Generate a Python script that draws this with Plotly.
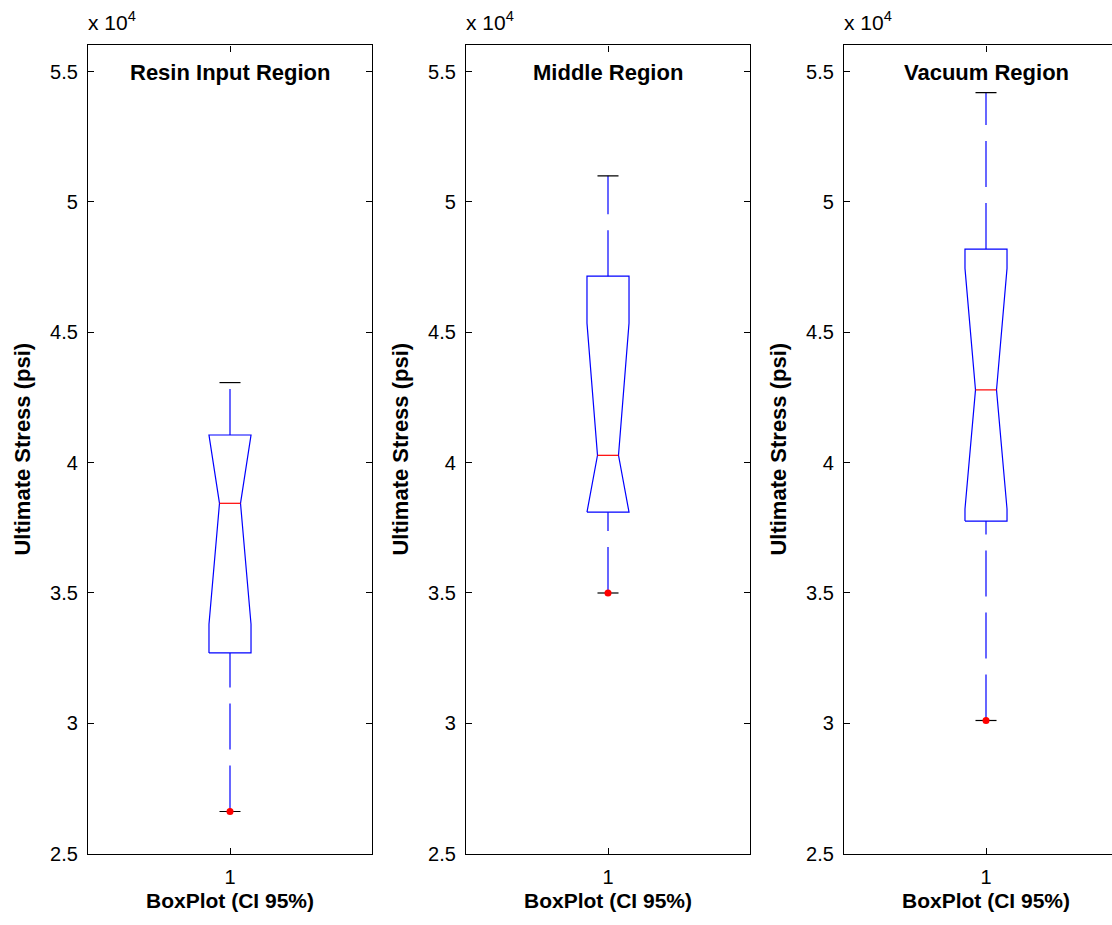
import plotly.graph_objects as go

# ---- data ----
regions = ["Resin Input Region", "Middle Region", "Vacuum Region"]
q1 = [32700, 38100, 37760]
median = [38440, 40280, 42790]
q3 = [41060, 47150, 48190]
notch_lo = [33800, 35210, 38220]
notch_hi = [43080, 45350, 47450]
whisker_lo = [26620, 35000, 30110]
whisker_hi = [43070, 51000, 54190]
outliers = [26620, 35000, 30110]
y_tickvals = [25000, 30000, 35000, 40000, 45000, 50000, 55000]
y_ticktext = ["2.5", "3", "3.5", "4", "4.5", "5", "5.5"]
x_ticktext = ["1"]
x_label = "BoxPlot (CI 95%)"
y_label = "Ultimate Stress (psi)"
exp_label = "x 10<sup>4</sup>"

# ---- layout geometry ----
W, H = 1112, 925
lefts = [88, 466, 844]
pw = 284
top_px, bottom_px = 46, 864
FONT = "Liberation Sans, Arial, Helvetica, sans-serif"
BLUE, RED, BLACK = "#0000FF", "#FF0000", "#000000"
bw, nw, cw = 0.074, 0.037, 0.037

fig = go.Figure()
annotations = []
layout = dict(
    width=W, height=H, autosize=False,
    margin=dict(l=0, r=0, t=0, b=0, pad=0),
    paper_bgcolor="white", plot_bgcolor="white",
    showlegend=False,
)

for i in range(3):
    xa = "x" if i == 0 else f"x{i+1}"
    ya = "y" if i == 0 else f"y{i+1}"
    nlo = max(notch_lo[i], q1[i])
    nhi = min(notch_hi[i], q3[i])
    # box with notch
    fig.add_trace(go.Scatter(
        x=[1-bw, 1-bw, 1-nw, 1-bw, 1-bw, 1+bw, 1+bw, 1+nw, 1+bw, 1+bw, 1-bw],
        y=[q1[i], nlo, median[i], nhi, q3[i], q3[i], nhi, median[i], nlo, q1[i], q1[i]],
        mode="lines", line=dict(color=BLUE, width=1.2), xaxis=xa, yaxis=ya,
        hoverinfo="skip"))
    # whiskers (drawn bottom -> top)
    fig.add_trace(go.Scatter(x=[1, 1], y=[whisker_lo[i], q1[i]], mode="lines",
                             line=dict(color=BLUE, width=1.2, dash="46px,16px"),
                             xaxis=xa, yaxis=ya, hoverinfo="skip"))
    fig.add_trace(go.Scatter(x=[1, 1], y=[q3[i], whisker_hi[i]], mode="lines",
                             line=dict(color=BLUE, width=1.2, dash="46px,16px"),
                             xaxis=xa, yaxis=ya, hoverinfo="skip"))
    # caps
    for v in (whisker_lo[i], whisker_hi[i]):
        fig.add_trace(go.Scatter(x=[1-cw, 1+cw], y=[v, v], mode="lines",
                                 line=dict(color=BLACK, width=1.2),
                                 xaxis=xa, yaxis=ya, hoverinfo="skip"))
    # median
    fig.add_trace(go.Scatter(x=[1-nw, 1+nw], y=[median[i], median[i]], mode="lines",
                             line=dict(color=RED, width=1.2), xaxis=xa, yaxis=ya,
                             hoverinfo="skip"))
    # outlier
    fig.add_trace(go.Scatter(x=[1], y=[outliers[i]], mode="markers",
                             marker=dict(color=RED, size=7, line=dict(width=0)),
                             xaxis=xa, yaxis=ya, hoverinfo="skip"))

    l = lefts[i]
    r = min(l + pw, W)
    xkey = "xaxis" if i == 0 else f"xaxis{i+1}"
    ykey = "yaxis" if i == 0 else f"yaxis{i+1}"
    layout[xkey] = dict(
        domain=[l / W, r / W], range=[0.5, 0.5 + (r - l) / pw],
        tickvals=[1], ticktext=x_ticktext, ticks="inside", ticklen=6,
        tickcolor=BLACK, showline=True, linecolor=BLACK, linewidth=1.2,
        mirror="ticks", showgrid=False, zeroline=False, anchor=ya,
        tickfont=dict(family=FONT, size=20, color=BLACK), ticklabelstandoff=5,
    )
    layout[ykey] = dict(
        domain=[(H - bottom_px) / H, (H - top_px) / H], range=[25000, 56000],
        tickvals=y_tickvals, ticktext=y_ticktext, ticks="inside", ticklen=6,
        tickcolor=BLACK, showline=True, linecolor=BLACK, linewidth=1.2,
        mirror=("ticks" if r - l == pw else False), showgrid=False,
        zeroline=False, anchor=xa,
        tickfont=dict(family=FONT, size=20, color=BLACK), ticklabelstandoff=5,
    )
    cx = (l + pw / 2) / W
    annotations.append(dict(text=f"<b>{regions[i]}</b>", x=cx, y=(H - 73) / H,
                            xref="paper", yref="paper", xanchor="center", yanchor="middle",
                            showarrow=False, font=dict(family=FONT, size=22, color=BLACK)))
    annotations.append(dict(text=f"<b>{x_label}</b>", x=cx, y=(H - 911) / H,
                            xref="paper", yref="paper", xanchor="center", yanchor="middle",
                            showarrow=False, font=dict(family=FONT, size=21, color=BLACK)))
    annotations.append(dict(text=f"<b>{y_label}</b>", x=(l - 65) / W, y=(H - 455) / H,
                            xref="paper", yref="paper", xanchor="center", yanchor="middle",
                            textangle=-90, showarrow=False,
                            font=dict(family=FONT, size=22, color=BLACK)))
    annotations.append(dict(text=exp_label, x=(l - 2) / W, y=(H - 36) / H,
                            xref="paper", yref="paper", xanchor="left", yanchor="bottom",
                            showarrow=False, font=dict(family=FONT, size=21, color=BLACK)))

layout["annotations"] = annotations
fig.update_layout(**layout)
fig.write_html("out.html")
